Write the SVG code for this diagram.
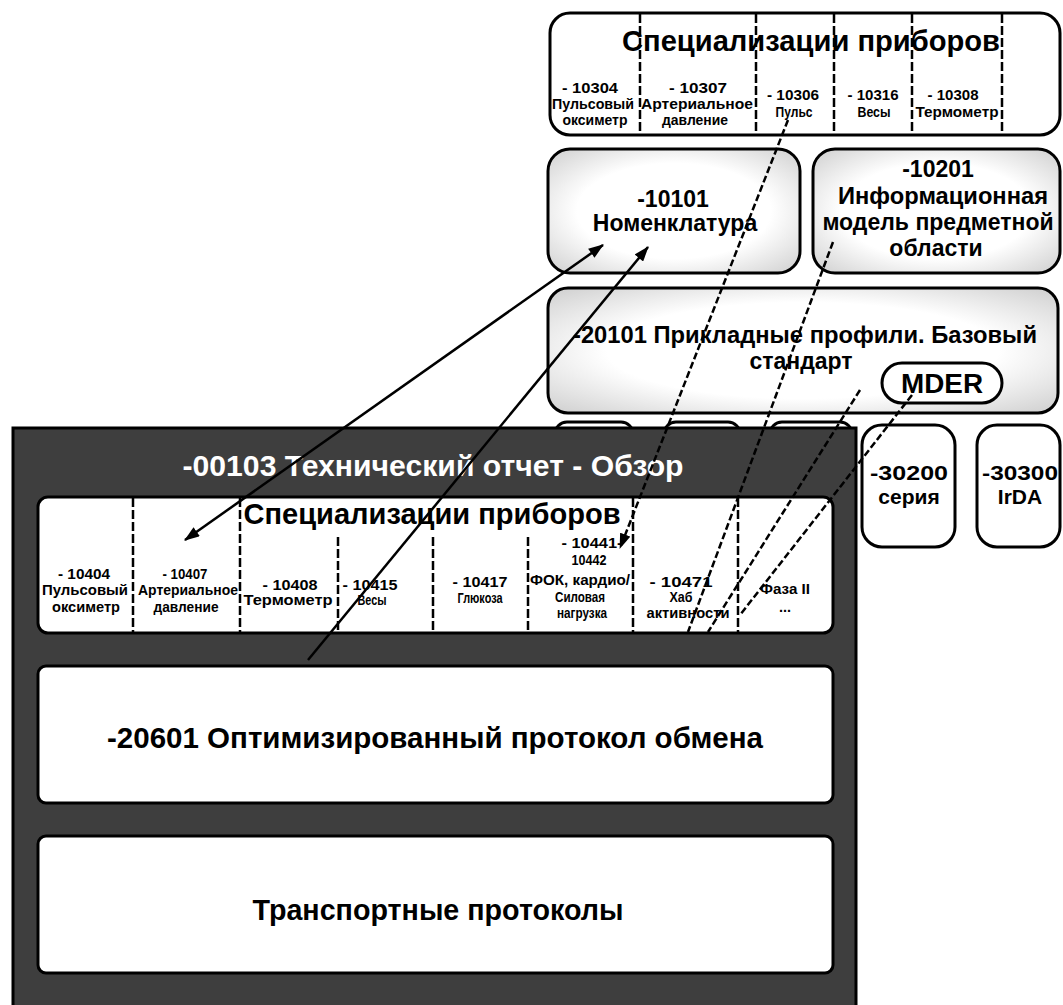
<svg xmlns="http://www.w3.org/2000/svg" width="1063" height="1005" viewBox="0 0 1063 1005">
  <defs>
    <radialGradient id="soft" cx="50%" cy="50%" r="70%">
      <stop offset="0.55" stop-color="#ffffff"/>
      <stop offset="1" stop-color="#cfcfcf"/>
    </radialGradient>
    <marker id="ah" viewBox="0 0 14 10" refX="13" refY="5" markerWidth="16" markerHeight="11" markerUnits="userSpaceOnUse" orient="auto-start-reverse">
      <path d="M0,0 L14,5 L0,10 Z" fill="#000"/>
    </marker>
    <style>
      text { font-family: "Liberation Sans", Arial, sans-serif; font-weight: bold; fill: #000; text-anchor: middle; }
      .box { fill: #fff; stroke: #000; stroke-width: 3; }
      .soft { fill: url(#soft); stroke: #000; stroke-width: 3; }
      .div { stroke: #000; stroke-width: 2.5; stroke-dasharray: 9 3; fill: none; }
      .big { font-size: 30px; }
      .mid { font-size: 23px; }
      .sm { font-size: 14.5px; }
      .wt { fill: #fff; }
      .ln { stroke: #000; stroke-width: 2.5; fill: none; }
      .dl { stroke: #000; stroke-width: 2.5; fill: none; stroke-dasharray: 7 3; }
    </style>
  </defs>

  <rect width="1063" height="1005" fill="#fff"/>

  <!-- Device specializations, 103xx series -->
  <g id="spec-103xx">
    <rect class="box" x="550" y="13" width="510" height="122" rx="20"/>
    <line class="div" x1="640" y1="14" x2="640" y2="134"/>
    <line class="div" x1="756" y1="14" x2="756" y2="134"/>
    <line class="div" x1="834" y1="14" x2="834" y2="134"/>
    <line class="div" x1="912" y1="14" x2="912" y2="134"/>
    <line class="div" x1="1002" y1="14" x2="1002" y2="134"/>
    <text class="big" x="811" y="51" textLength="378" lengthAdjust="spacingAndGlyphs">Специализации приборов</text>
    <text class="sm" x="590" y="93" textLength="56" lengthAdjust="spacingAndGlyphs">- 10304</text>
    <text class="sm" x="593" y="109" textLength="82" lengthAdjust="spacingAndGlyphs">Пульсовый</text>
    <text class="sm" x="595" y="125" textLength="65" lengthAdjust="spacingAndGlyphs">оксиметр</text>
    <text class="sm" x="698" y="93" textLength="58" lengthAdjust="spacingAndGlyphs">- 10307</text>
    <text class="sm" x="697" y="109" textLength="112" lengthAdjust="spacingAndGlyphs">Артериальное</text>
    <text class="sm" x="695" y="125" textLength="66" lengthAdjust="spacingAndGlyphs">давление</text>
    <text class="sm" x="793" y="100" textLength="52" lengthAdjust="spacingAndGlyphs">- 10306</text>
    <text class="sm" x="794" y="117" textLength="37" lengthAdjust="spacingAndGlyphs">Пульс</text>
    <text class="sm" x="873" y="100" textLength="51" lengthAdjust="spacingAndGlyphs">- 10316</text>
    <text class="sm" x="874" y="117" textLength="33" lengthAdjust="spacingAndGlyphs">Весы</text>
    <text class="sm" x="953" y="100" textLength="51" lengthAdjust="spacingAndGlyphs">- 10308</text>
    <text class="sm" x="957" y="117" textLength="83" lengthAdjust="spacingAndGlyphs">Термометр</text>
  </g>

  <!-- Nomenclature -->
  <g id="n10101">
    <rect class="soft" x="548" y="149" width="252" height="124" rx="22"/>
    <text class="mid" x="673" y="207">-10101</text>
    <text class="mid" x="675" y="231">Номенклатура</text>
  </g>

  <!-- Domain information model -->
  <g id="n10201">
    <rect class="soft" x="813" y="149" width="247" height="124" rx="22"/>
    <text class="mid" x="938" y="177">-10201</text>
    <text class="mid" x="943" y="204" textLength="210" lengthAdjust="spacingAndGlyphs">Информационная</text>
    <text class="mid" x="938" y="230">модель предметной</text>
    <text class="mid" x="936" y="256">области</text>
  </g>

  <!-- Application profiles base standard -->
  <g id="n20101">
    <rect class="soft" x="548" y="288" width="510" height="125" rx="20"/>
    <text class="mid" x="805" y="343" textLength="464" lengthAdjust="spacingAndGlyphs">-20101 Прикладные профили. Базовый</text>
    <text class="mid" x="801" y="369">стандарт</text>
    <rect x="882" y="363" width="120" height="40" rx="20" fill="#fff" stroke="#000" stroke-width="3"/>
    <text x="942" y="393" font-size="27" textLength="82" lengthAdjust="spacingAndGlyphs">MDER</text>
  </g>

  <!-- Transport boxes partly hidden by the overview -->
  <g id="hidden-transports">
    <rect class="box" x="555" y="422" width="78" height="60" rx="12"/>
    <rect class="box" x="664" y="422" width="76" height="60" rx="12"/>
    <rect class="box" x="770" y="422" width="82" height="60" rx="12"/>
  </g>

  <g id="n30200">
    <rect class="box" x="862" y="425" width="93" height="122" rx="20"/>
    <text x="909" y="480" font-size="21" textLength="78" lengthAdjust="spacingAndGlyphs">-30200</text>
    <text x="909" y="504" font-size="21">серия</text>
  </g>

  <g id="n30300">
    <rect class="box" x="977" y="425" width="83" height="122" rx="20"/>
    <text x="1020" y="480" font-size="21" textLength="76" lengthAdjust="spacingAndGlyphs">-30300</text>
    <text x="1020" y="504" font-size="21">IrDA</text>
  </g>

  <!-- Technical report overview -->
  <g id="n00103">
    <rect x="13" y="428" width="843" height="590" fill="#3e3e3e" stroke="#000" stroke-width="3"/>
    <text class="big wt" x="433" y="476" textLength="501" lengthAdjust="spacingAndGlyphs">-00103 Технический отчет - Обзор</text>
  </g>

  <!-- Device specializations, 104xx series -->
  <g id="spec-104xx">
    <rect class="box" x="38" y="497" width="795" height="136" rx="10"/>
    <line class="div" x1="133" y1="498" x2="133" y2="632"/>
    <line class="div" x1="240" y1="498" x2="240" y2="632"/>
    <line class="div" x1="338" y1="537" x2="338" y2="632"/>
    <line class="div" x1="433" y1="537" x2="433" y2="632"/>
    <line class="div" x1="528" y1="537" x2="528" y2="632"/>
    <line class="div" x1="633" y1="498" x2="633" y2="632"/>
    <line class="div" x1="738" y1="498" x2="738" y2="632"/>
    <text class="big" x="432" y="524" textLength="377" lengthAdjust="spacingAndGlyphs">Специализации приборов</text>
    <text class="sm" x="84" y="579" textLength="52" lengthAdjust="spacingAndGlyphs">- 10404</text>
    <text class="sm" x="85" y="595" textLength="86" lengthAdjust="spacingAndGlyphs">Пульсовый</text>
    <text class="sm" x="86" y="612" textLength="68" lengthAdjust="spacingAndGlyphs">оксиметр</text>
    <text class="sm" x="185" y="579" textLength="45" lengthAdjust="spacingAndGlyphs">- 10407</text>
    <text class="sm" x="188" y="595" textLength="100" lengthAdjust="spacingAndGlyphs">Артериальное</text>
    <text class="sm" x="186" y="612" textLength="65" lengthAdjust="spacingAndGlyphs">давление</text>
    <text class="sm" x="290" y="590" textLength="55" lengthAdjust="spacingAndGlyphs">- 10408</text>
    <text class="sm" x="288" y="605" textLength="89" lengthAdjust="spacingAndGlyphs">Термометр</text>
    <text class="sm" x="370" y="590" textLength="55" lengthAdjust="spacingAndGlyphs">- 10415</text>
    <text class="sm" x="372" y="605" textLength="29" lengthAdjust="spacingAndGlyphs">Весы</text>
    <text class="sm" x="480" y="587" textLength="55" lengthAdjust="spacingAndGlyphs">- 10417</text>
    <text class="sm" x="480" y="603" textLength="45" lengthAdjust="spacingAndGlyphs">Глюкоза</text>
    <text class="sm" x="592" y="548" textLength="61" lengthAdjust="spacingAndGlyphs">- 10441-</text>
    <text class="sm" x="589" y="565" textLength="35" lengthAdjust="spacingAndGlyphs">10442</text>
    <text class="sm" x="580" y="585" textLength="100" lengthAdjust="spacingAndGlyphs">ФОК, кардио/</text>
    <text class="sm" x="580" y="602" textLength="50" lengthAdjust="spacingAndGlyphs">Силовая</text>
    <text class="sm" x="582" y="618" textLength="50" lengthAdjust="spacingAndGlyphs">нагрузка</text>
    <text class="sm" x="681" y="587" textLength="63" lengthAdjust="spacingAndGlyphs">- 10471</text>
    <text class="sm" x="681" y="602" textLength="23" lengthAdjust="spacingAndGlyphs">Хаб</text>
    <text class="sm" x="688" y="618" textLength="83" lengthAdjust="spacingAndGlyphs">активности</text>
    <text class="sm" x="785" y="594" textLength="50" lengthAdjust="spacingAndGlyphs">Фаза II</text>
    <text class="sm" x="785" y="612">...</text>
  </g>

  <!-- Optimized exchange protocol -->
  <g id="n20601">
    <rect class="box" x="38" y="666" width="795" height="137" rx="8"/>
    <text class="big" x="435" y="748" textLength="656" lengthAdjust="spacingAndGlyphs">-20601 Оптимизированный протокол обмена</text>
  </g>

  <!-- Transport protocols -->
  <g id="transport">
    <rect class="box" x="38" y="836" width="795" height="137" rx="8"/>
    <text class="big" x="438" y="920" textLength="371" lengthAdjust="spacingAndGlyphs">Транспортные протоколы</text>
  </g>

  <!-- Links between standards -->
  <g id="connectors">
    <line class="ln" x1="185" y1="540" x2="603" y2="245" marker-start="url(#ah)" marker-end="url(#ah)"/>
    <line class="ln" x1="308" y1="660" x2="648" y2="247" marker-end="url(#ah)"/>
    <line class="dl" x1="788" y1="120" x2="620" y2="548" marker-end="url(#ah)"/>
    <line class="dl" x1="833" y1="242" x2="688" y2="632"/>
    <line class="dl" x1="860" y1="390" x2="708" y2="632"/>
    <line class="dl" x1="912" y1="395" x2="740" y2="615"/>
  </g>
</svg>
